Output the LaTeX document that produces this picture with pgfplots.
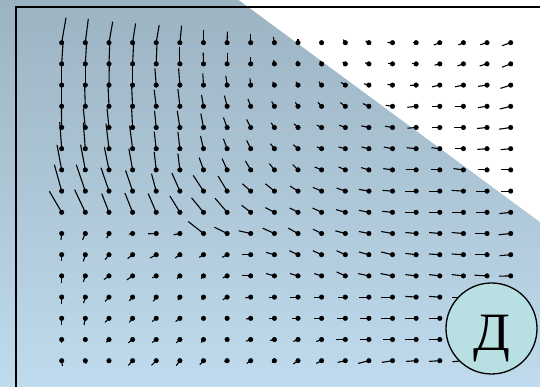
\documentclass[border=0pt]{standalone}
\usepackage{pgfplots}
\pgfplotsset{compat=1.18}
\usepackage{pgfplotstable}
\usepackage{fontspec}
\newfontfamily\cyrserif{Liberation Serif}

\definecolor{bgtop}{HTML}{9CB3C2}
\definecolor{bgbot}{HTML}{BFDBED}
\definecolor{badge}{HTML}{B8E0E2}

% direction field: grid point (x,y) and segment offset (u,v), y measured downwards
\pgfplotstableread{
x y u v
61.7 42.7 4.3 -25
85.3 42.7 3 -23.7
109.0 42.7 3.7 -21
132.6 42.7 3 -19.3
156.2 42.7 3 -17.7
179.9 42.7 1.7 -17
203.5 42.7 0 -12.7
227.1 42.7 0.3 -11
250.7 42.7 0 -8.7
274.4 42.7 -1 -5.7
298.0 42.7 0 -3.7
321.6 42.7 -0.3 -0.8
345.3 42.7 -2 -3
368.9 42.7 -3.3 -1.7
392.5 42.7 -5 -0.3
416.1 42.7 -3.3 0
439.8 42.7 -6 2.3
463.4 42.7 -5 2.3
487.0 42.7 -6.7 2
510.7 42.7 -8.7 3
61.7 63.9 1.3 -21
85.3 63.9 1.3 -21
109.0 63.9 0.7 -20
132.6 63.9 1 -20
156.2 63.9 0.7 -18.7
179.9 63.9 0 -17
203.5 63.9 -0.3 -11.3
227.1 63.9 0 -10.7
250.7 63.9 0 -7
274.4 63.9 -0.7 -3.7
298.0 63.9 -1 -3
321.6 63.9 -1.7 -3
345.3 63.9 -2.7 -2
368.9 63.9 -4 -1
392.5 63.9 -5 0
416.1 63.9 -4 0
439.8 63.9 -5.3 1.3
463.4 63.9 -6 2
487.0 63.9 -7.3 2
510.7 63.9 -8.7 3.3
61.7 85.1 0 -21
85.3 85.1 0 -21
109.0 85.1 0.3 -21
132.6 85.1 0 -20
156.2 85.1 -1.3 -16.7
179.9 85.1 -1.3 -16.7
203.5 85.1 -0.7 -11.7
227.1 85.1 -1.3 -9.3
250.7 85.1 -0.7 -6.7
274.4 85.1 -1.7 -3.3
298.0 85.1 -2 -3.3
321.6 85.1 -2.7 -3.3
345.3 85.1 -4.3 -2.7
368.9 85.1 -5 -1.3
392.5 85.1 -5 -0.7
416.1 85.1 -6 0.3
439.8 85.1 -7.7 1.7
463.4 85.1 -8.3 1.7
487.0 85.1 -9 1.3
510.7 85.1 -10.3 3.3
61.7 106.3 0 -21
85.3 106.3 -0.7 -21
109.0 106.3 -1 -21
132.6 106.3 -1 -21
156.2 106.3 -2 -16.3
179.9 106.3 -2 -17.3
203.5 106.3 -2 -11.3
227.1 106.3 -2.7 -10.7
250.7 106.3 -2.7 -7.3
274.4 106.3 -2.7 -4.7
298.0 106.3 -2.7 -4
321.6 106.3 -3.7 -4
345.3 106.3 -5 -3.7
368.9 106.3 -6 -2.7
392.5 106.3 -6.7 -1
416.1 106.3 -8.7 1
439.8 106.3 -7.7 0
463.4 106.3 -8.3 0
487.0 106.3 -9 1.3
510.7 106.3 -11 2.7
61.7 127.5 -0.3 -21
85.3 127.5 -2 -19
109.0 127.5 -2 -19
132.6 127.5 -1 -19
156.2 127.5 -1.7 -16.7
179.9 127.5 -2.7 -16.7
203.5 127.5 -2.7 -14
227.1 127.5 -3.7 -10
250.7 127.5 -4 -8
274.4 127.5 -3.3 -4.7
298.0 127.5 -4 -3.7
321.6 127.5 -4.7 -2.3
345.3 127.5 -6 -2.3
368.9 127.5 -7.7 -1.7
392.5 127.5 -7.3 -1.3
416.1 127.5 -8.7 0.7
439.8 127.5 -7.7 0
463.4 127.5 -9 0
487.0 127.5 -10 1
510.7 127.5 -11.7 1.7
61.7 148.7 -2 -26.7
85.3 148.7 -2 -26
109.0 148.7 -3 -25
132.6 148.7 -3 -23
156.2 148.7 -2 -17
179.9 148.7 -2 -16.7
203.5 148.7 -3 -12.7
227.1 148.7 -3.7 -10
250.7 148.7 -4 -8.3
274.4 148.7 -4 -5
298.0 148.7 -4.7 -4
321.6 148.7 -4.7 -1.7
345.3 148.7 -6.7 -1.7
368.9 148.7 -7.3 -1.7
392.5 148.7 -8.7 -1.7
416.1 148.7 -9.3 -1
439.8 148.7 -8.3 -1
463.4 148.7 -8.3 0
487.0 148.7 -9.7 0.7
510.7 148.7 -10 1
61.7 169.9 -4.7 -25
85.3 169.9 -4.7 -25.3
109.0 169.9 -4.7 -23
132.6 169.9 -3.7 -21.3
156.2 169.9 -2 -18
179.9 169.9 -2 -16.3
203.5 169.9 -4.3 -12.3
227.1 169.9 -5 -11.3
250.7 169.9 -5.3 -9
274.4 169.9 -5 -6.3
298.0 169.9 -5.3 -5.3
321.6 169.9 -7 -3
345.3 169.9 -6.7 -3
368.9 169.9 -7.7 -2.3
392.5 169.9 -9.3 -1.3
416.1 169.9 -10 0
439.8 169.9 -9.3 0
463.4 169.9 -10 -1.3
487.0 169.9 -9 0
510.7 169.9 -10 0
61.7 191.1 -7.3 -26.3
85.3 191.1 -9 -26.3
109.0 191.1 -8 -23.3
132.6 191.1 -7 -20.7
156.2 191.1 -4.7 -17.3
179.9 191.1 -8 -18
203.5 191.1 -10.3 -15.7
227.1 191.1 -9 -15
250.7 191.1 -8.3 -7.3
274.4 191.1 -9 -7.3
298.0 191.1 -8 -5
321.6 191.1 -8.7 -3.7
345.3 191.1 -8.7 -3
368.9 191.1 -10 -1.7
392.5 191.1 -10 -0.7
416.1 191.1 -10.7 0
439.8 191.1 -10.7 0
463.4 191.1 -11.7 -0.7
487.0 191.1 -10.7 0
510.7 191.1 -10 0
61.7 212.3 -12.3 -21
85.3 212.3 -10.7 -22.7
109.0 212.3 -7.3 -18.7
132.6 212.3 -7.7 -19.3
156.2 212.3 -8 -18.7
179.9 212.3 -10 -16.3
203.5 212.3 -12 -14.5
227.1 212.3 -12 -14
250.7 212.3 -9 -7
274.4 212.3 -9 -4.7
298.0 212.3 -8.3 -4.3
321.6 212.3 -9 -4.3
345.3 212.3 -9.3 -2.7
368.9 212.3 -10 -2
392.5 212.3 -10.3 -1
416.1 212.3 -10.7 0
439.8 212.3 -10.7 0
463.4 212.3 -11 0
487.0 212.3 -11.3 0
510.7 212.3 -11.3 1.3
61.7 233.5 -0.7 6.3
85.3 233.5 -2.7 6.3
109.0 233.5 -2.3 4.7
132.6 233.5 -3.7 0.7
156.2 233.5 -8 0.3
179.9 233.5 -6.3 1.3
203.5 233.5 -15.3 -12
227.1 233.5 -12.7 -6.3
250.7 233.5 -12 -2.7
274.4 233.5 -11.7 -5.3
298.0 233.5 -9.7 -5.3
321.6 233.5 -8.7 -4.3
345.3 233.5 -10 -2.7
368.9 233.5 -10 -2
392.5 233.5 -11.3 -2
416.1 233.5 -10.7 -1
439.8 233.5 -10.7 -1
463.4 233.5 -11.7 -1
487.0 233.5 -12.3 0
510.7 233.5 -12 1.3
61.7 254.7 0 6.7
85.3 254.7 -2 6.7
109.0 254.7 -4 5
132.6 254.7 -5 4
156.2 254.7 -6 3.3
179.9 254.7 -4.7 3.3
203.5 254.7 -4.3 2.7
227.1 254.7 -5 2.7
250.7 254.7 -8.7 0
274.4 254.7 -8.3 -2.3
298.0 254.7 -8.7 -4
321.6 254.7 -8.7 -4
345.3 254.7 -8.7 -4
368.9 254.7 -10 -2.7
392.5 254.7 -11.3 -2.7
416.1 254.7 -10.7 -1.3
439.8 254.7 -10.7 -0.7
463.4 254.7 -11.7 -0.7
487.0 254.7 -12.3 0
510.7 254.7 -11 1
61.7 275.9 0 7
85.3 275.9 -2 6
109.0 275.9 -5 3.7
132.6 275.9 -5.7 4
156.2 275.9 -4 2
179.9 275.9 -3 2.7
203.5 275.9 -2.3 2.7
227.1 275.9 -4.3 2
250.7 275.9 -8.7 0
274.4 275.9 -8.3 -2.3
298.0 275.9 -8 -2.3
321.6 275.9 -7.3 -2.3
345.3 275.9 -8.7 -4
368.9 275.9 -10.7 -2.3
392.5 275.9 -12 -2.3
416.1 275.9 -10.7 -1.3
439.8 275.9 -10.7 -1.3
463.4 275.9 -11.7 -1.3
487.0 275.9 -12.3 -0.7
510.7 275.9 -11.7 0.3
61.7 297.1 0 7
85.3 297.1 -1.7 6
109.0 297.1 -4 4.3
132.6 297.1 -3.3 3.7
156.2 297.1 -3 4.3
179.9 297.1 -2 3
203.5 297.1 -1.7 2.7
227.1 297.1 -4.3 2.7
250.7 297.1 -5.3 0.7
274.4 297.1 -5.7 0
298.0 297.1 -7.7 0
321.6 297.1 -7.3 0
345.3 297.1 -7.7 0
368.9 297.1 -10 0
392.5 297.1 -12 0
416.1 297.1 -10.7 -0.7
439.8 297.1 -10.7 -0.7
463.4 297.1 -11 0
487.0 297.1 -11 0
510.7 297.1 -11 0
61.7 318.3 0 6.7
85.3 318.3 -1.3 6.7
109.0 318.3 -4 4
132.6 318.3 -3.3 4
156.2 318.3 -4 3.3
179.9 318.3 -4.3 3.3
203.5 318.3 -1 1.3
227.1 318.3 0 0
250.7 318.3 -4.7 0.7
274.4 318.3 -5 0
298.0 318.3 -6 0
321.6 318.3 -7.3 0
345.3 318.3 -8.7 0
368.9 318.3 -9.3 0
392.5 318.3 -11.3 0
416.1 318.3 -10.7 0
439.8 318.3 -10.7 0
463.4 318.3 -11 0
487.0 318.3 -11 0
510.7 318.3 -11 0
61.7 339.5 0 3.7
85.3 339.5 0 2
109.0 339.5 -2.7 2.7
132.6 339.5 -4.3 3.3
156.2 339.5 -4 3
179.9 339.5 -3.7 3.3
203.5 339.5 -2.3 3
227.1 339.5 0 0
250.7 339.5 -4.7 1.7
274.4 339.5 -4.3 1
298.0 339.5 -4.7 2
321.6 339.5 -5.3 2
345.3 339.5 -9.3 0
368.9 339.5 -9.3 0
392.5 339.5 -10 0
416.1 339.5 -10.7 0
439.8 339.5 -10.7 0
463.4 339.5 -11 0.5
487.0 339.5 -11 0.5
510.7 339.5 -11 0.5
61.7 360.7 0.7 5.3
85.3 360.7 0.7 3
109.0 360.7 -1.3 2.3
132.6 360.7 -4.3 4.7
156.2 360.7 -4.7 4.7
179.9 360.7 -3.7 5
203.5 360.7 -3.7 4
227.1 360.7 -2.7 1
250.7 360.7 -4 2.7
274.4 360.7 -2.3 1.7
298.0 360.7 -4.7 3.3
321.6 360.7 -5.3 2.7
345.3 360.7 -7.7 1.7
368.9 360.7 -10.7 2.7
392.5 360.7 -10.7 1.7
416.1 360.7 -10 0.7
439.8 360.7 -10.7 0.7
463.4 360.7 -11 1
487.0 360.7 -11 1
510.7 360.7 -11 1
}\field

\begin{document}
\begin{tikzpicture}
\begin{axis}[
  scale only axis,
  width=540pt, height=387pt,
  xmin=0, xmax=540, ymin=0, ymax=387,
  y dir=reverse,
  hide axis,
  clip=true,
]
% backdrop: soft blue gradient with a white corner
\shade[top color=bgtop, bottom color=bgbot]
  (axis cs:0,0) rectangle (axis cs:540,387);
\fill[white] (axis cs:238.8,0) -- (axis cs:540,0) -- (axis cs:540,222) -- cycle;
% frame
\draw[black, line width=2pt] (axis cs:15.7,387) -- (axis cs:15.7,6.7) -- (axis cs:540,6.7);

% field segments
\addplot[black, line width=1.1pt, no markers,
  quiver={u=\thisrow{u}, v=\thisrow{v}}]
  table[x=x, y=y] \field;
% grid points
\addplot[only marks, mark=*, mark size=2.3pt, black]
  table[x=x, y=y] \field;

\coordinate (badgecentre) at (axis cs:491.5,328.5);
\coordinate (badgebase) at (axis cs:491.5,351);
\end{axis}
% badge on top of the field
\draw[black, line width=1.3pt, fill=badge] (badgecentre) circle[radius=45.5pt];
\node[anchor=base, inner sep=0pt, font=\cyrserif\fontsize{54}{54}\selectfont]
  at (badgebase) {Д};
\end{tikzpicture}
\end{document}
